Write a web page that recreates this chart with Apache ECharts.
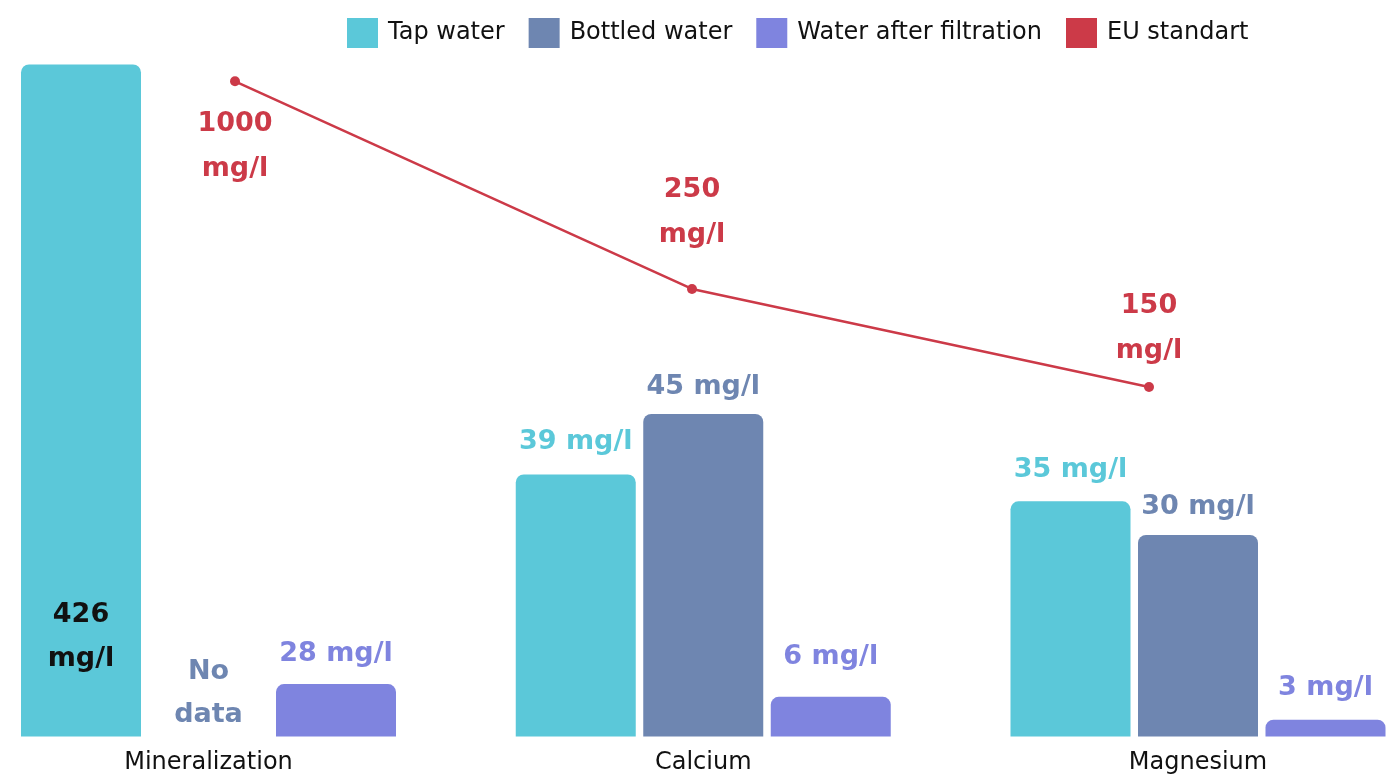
<!DOCTYPE html>
<html>
<head>
    <meta charset="utf-8">
    <title>Water minerals</title>
    <script src="https://cdn.jsdelivr.net/npm/echarts@6/dist/echarts.min.js"></script>
    <style>
        html, body { margin: 0; padding: 0; background: #fff; }
    </style>
</head>
<body>
<div id="main" style="width: 1400px;height:781px;"></div>
<script type="text/javascript">
    // categories
    var categories = ['Mineralization', 'Calcium', 'Magnesium'];
    // bar / line heights as drawn in the picture (chart scale, not mg/l)
    var tapHeight = [100, 39, 35];
    var bottledHeight = [0, 48, 30];
    var filteredHeight = [7.8, 5.9, 2.5];
    var euHeight = [97.5, 66.6, 52];
    // printed values
    var tapLabels = ['426\nmg/l', '39 mg/l', '35 mg/l'];
    var bottledLabels = ['No\ndata', '45 mg/l', '30 mg/l'];
    var filteredLabels = ['28 mg/l', '6 mg/l', '3 mg/l'];
    var euLabels = ['1000\nmg/l', '250\nmg/l', '150\nmg/l'];

    var FONT = 'DejaVu Sans';
    var cTap = '#5bc8d9', cBottled = '#6e86b1', cFilter = '#7f84df', cEu = '#cc3a48';

    var myChart = echarts.init(document.getElementById('main'));

    function barLabel(color) {
        return {
            show: true,
            position: 'top',
            distance: 15,
            color: color,
            fontFamily: FONT,
            fontWeight: 'bold',
            fontSize: 27,
            lineHeight: 30
        };
    }

    // label gap above each bar (px), tuned by eye
    function withGaps(values, gaps) {
        return values.map(function (v, i) {
            return {value: v, label: {distance: gaps[i]}};
        });
    }

    var tapData = withGaps(tapHeight, [56, 17, 16]);
    // tall bar: label sits inside, in black
    tapData[0].label = {position: 'insideBottom', distance: 56, color: '#111', lineHeight: 44};

    var bottledData = withGaps(bottledHeight, [0, 12, 13]);
    bottledData[0].label.lineHeight = 43;

    var filteredData = withGaps(filteredHeight, [15, 25, 17]);

    var euData = withGaps(euHeight, [15, 26, 9]);
    euData[0].label.position = 'bottom';

    option = {
        animation: false,
        color: [cTap, cBottled, cFilter, cEu],
        legend: {
            top: 13,
            left: 342,
            itemWidth: 31,
            itemHeight: 30,
            itemGap: 24,
            icon: 'rect',
            data: ['Tap water', 'Bottled water', 'Water after filtration', 'EU standart'],
            textStyle: {
                color: '#111',
                fontFamily: FONT,
                fontSize: 24,
                padding: [0, 0, 0, 5]
            }
        },
        grid: [
            // bars: category ticks at 208, 703, 1198
            {left: 208.5, right: 202, top: 64.5, bottom: 44.5, containLabel: false},
            // line: its own category axis
            {left: 235, right: 251, top: 64.5, bottom: 44.5, containLabel: false}
        ],
        xAxis: [
            {
                type: 'category',
                gridIndex: 0,
                data: categories,
                boundaryGap: false,
                axisLine: {show: false},
                axisTick: {show: false},
                axisLabel: {
                    margin: 14,
                    color: '#111',
                    fontFamily: FONT,
                    fontSize: 24
                }
            },
            {
                type: 'category',
                gridIndex: 1,
                data: categories,
                boundaryGap: false,
                show: false
            }
        ],
        yAxis: [
            {type: 'value', gridIndex: 0, min: 0, max: 100, show: false},
            {type: 'value', gridIndex: 1, min: 0, max: 100, show: false}
        ],
        series: [
            {
                name: 'Tap water',
                type: 'bar',
                barWidth: 120,
                barGap: '6.25%',
                itemStyle: {borderRadius: [8, 8, 0, 0]},
                label: Object.assign(barLabel(cTap), {
                    formatter: function (p) { return tapLabels[p.dataIndex]; }
                }),
                data: tapData
            },
            {
                name: 'Bottled water',
                type: 'bar',
                barWidth: 120,
                barGap: '6.25%',
                itemStyle: {borderRadius: [8, 8, 0, 0]},
                label: Object.assign(barLabel(cBottled), {
                    formatter: function (p) { return bottledLabels[p.dataIndex]; }
                }),
                data: bottledData
            },
            {
                name: 'Water after filtration',
                type: 'bar',
                barWidth: 120,
                barGap: '6.25%',
                itemStyle: {borderRadius: [8, 8, 0, 0]},
                label: Object.assign(barLabel(cFilter), {
                    formatter: function (p) { return filteredLabels[p.dataIndex]; }
                }),
                data: filteredData
            },
            {
                name: 'EU standart',
                type: 'line',
                xAxisIndex: 1,
                yAxisIndex: 1,
                symbol: 'circle',
                symbolSize: 10,
                lineStyle: {color: cEu, width: 2.5},
                itemStyle: {color: cEu},
                label: {
                    show: true,
                    position: 'top',
                    color: cEu,
                    fontFamily: FONT,
                    fontWeight: 'bold',
                    fontSize: 27,
                    lineHeight: 45,
                    formatter: function (p) { return euLabels[p.dataIndex]; }
                },
                data: euData
            }
        ]
    };
    myChart.setOption(option);
</script>
</body>
</html>
